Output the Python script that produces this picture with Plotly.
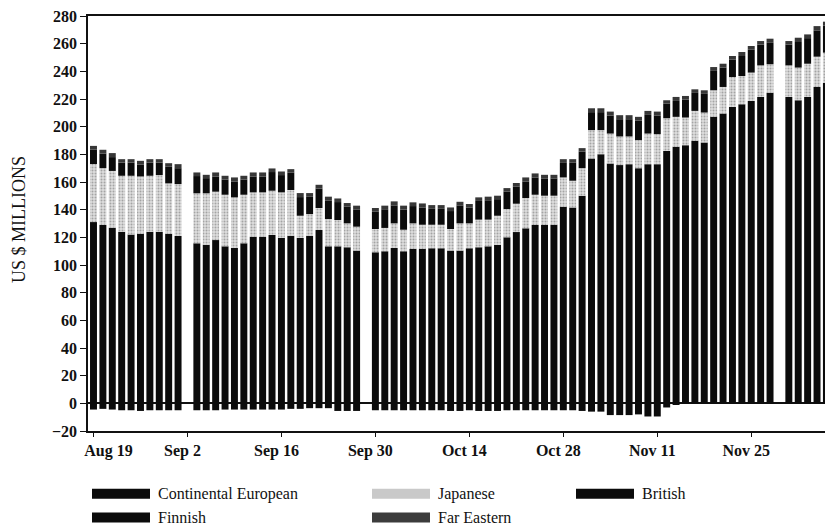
import pandas as pd
import plotly.graph_objects as go

# Business days Aug 19 - Dec 6 (categories); None = no bar that day
days = [d.strftime("%b %d").replace(" 0", " ") for d in pd.bdate_range("1991-08-19", periods=80)]

tick_labels = ["Aug 19", "Sep 2", "Sep 16", "Sep 30", "Oct 14", "Oct 28", "Nov 11", "Nov 25"]

continental = [131, 129, 127, 124, 122, 122.5, 124, 124, 122.5, 121,
               None,
               115.7, 114.7, 118, 113.5, 112.3, 115.7, 120.5, 120.5, 121.7, 119.5, 121.2, 119.5, 121.2, 125.3,
               113.5, 113.5, 112.8, 110.4,
               None,
               109.2, 109.9, 112.3, 109.9, 111.6, 111.6, 112.1, 112.1, 110.4, 110.4, 112.1, 112.8, 113.5,
               114.5, 120, 123.8, 126.5, 128.9, 128.9, 129.1, 142.1, 141.6, 150.1, 177, 180.1, 173.4,
               172.2, 172.9, 170, 172.9, 172.9, 182.5, 185.4, 186.6, 189.8, 188.6, 207.1, 209.5, 214.3,
               216.2, 218.6, 221.5, 224.6,
               None,
               221.5, 219.1, 221.5, 228.7, 231.8, 233]

japanese = [42, 41, 41, 40.5, 42.5, 41.5, 40.5, 41, 36.5, 37.5,
            None,
            36.1, 37.1, 35, 37.3, 36.6, 35.1, 32, 32, 32, 33, 33, 16.1, 15.6, 15.9,
            19.7, 19, 17.3, 17.3,
            None,
            16.8, 16.9, 17.8, 15.6, 18.5, 17.5, 17, 17, 15.6, 19.7, 18, 20, 19.3,
            21.1, 20.5, 20.5, 21.9, 21.9, 21.2, 21, 21.2, 19.3, 19.9, 20.5, 17.4, 21.6,
            20.7, 20, 20.3, 22.1, 21.7, 23.6, 21.7, 20, 21.6, 21.6, 19.2, 19.2, 21.6,
            20.4, 20.5, 22.8, 20.5,
            None,
            22.8, 23.6, 24, 21.9, 21.7, 22]

british = [10.5, 10.5, 10, 9.5, 9.5, 8.5, 9.5, 9, 12, 11.5,
           None,
           12.5, 11, 11, 11, 11.5, 11, 11.5, 11.5, 13.5, 12.5, 12.5, 13.5, 12.5, 14,
           13.5, 13, 12, 12.5,
           None,
           12.5, 13.5, 13, 14.5, 12.5, 12.5, 11.5, 11.5, 13, 13, 11.5, 13.5, 14,
           12, 12.5, 12.5, 12, 12.5, 12.5, 12.5, 10.5, 13, 12, 13, 13, 13,
           12.5, 12.5, 14, 13.5, 13.5, 10.5, 11.5, 13, 13, 13.5, 14, 14, 12.5,
           14.5, 16.5, 15, 15.5,
           None,
           15, 18.5, 18.5, 19, 19.5, 19]

far_eastern = [2.6, 2.8, 2.9, 2.5, 2.5, 2.8, 2.5, 2.5, 2.6, 2.9,
               None,
               2.6, 2.4, 2.9, 2.7, 2.9, 2.7, 2.9, 2.9, 2.6, 2.6, 2.6, 2.9, 2.7, 2.8,
               2.7, 2.6, 2.7, 2.7,
               None,
               2.7, 2.6, 2.9, 2.9, 2.7, 2.9, 2.7, 2.7, 2.6, 2.6, 2.5, 2.6, 2.6,
               2.5, 2.6, 2.5, 2.9, 2.9, 2.6, 2.6, 2.7, 2.6, 2.5, 2.8, 2.8, 2.9,
               2.9, 2.9, 2.8, 2.9, 2.8, 2.5, 2.9, 2.6, 2.6, 2.6, 2.8, 2.8, 2.7,
               2.9, 2.7, 2.6, 3,
               None,
               2.6, 3.1, 2.7, 3.1, 2.9, 3]

finnish = [-4.5, -4, -4.5, -5, -5, -5.5, -5, -5, -5, -5,
           None,
           -5, -5, -5, -4.5, -4.5, -4.5, -4.5, -4.5, -4.5, -4.5, -4, -4, -3.5, -3.5,
           -3.5, -5.5, -5.5, -5.5,
           None,
           -5, -5, -5, -5, -5, -5, -5, -5, -5.5, -5.5, -5, -5.5, -5.5,
           -5.5, -5, -5, -5, -5, -5, -5, -5, -5, -5.5, -6, -6, -8.5,
           -8.5, -8.5, -8, -9.5, -9.5, -3, -1, 0, 0, 0, 0, 0, 0,
           0, 0, 0, 0,
           None,
           0, 0, 0, 0, 0, 0]

BLACK = "#0b0b0b"
FONT = "Liberation Serif"

fig = go.Figure()
common = dict(x=days, width=0.74, showlegend=False, hoverinfo="x+y")
fig.add_bar(y=continental, name="Continental European", marker=dict(color=BLACK, line_width=0), **common)
fig.add_bar(y=japanese, name="Japanese",
            marker=dict(color="#d0d0d0", line_width=0,
                        pattern=dict(shape=".", fgcolor="#6a6a6a", bgcolor="#dedede", size=3, solidity=0.35)),
            **common)
fig.add_bar(y=british, name="British", marker=dict(color=BLACK, line_width=0), **common)
fig.add_bar(y=far_eastern, name="Far Eastern",
            marker=dict(color="#333", line_width=0,
                        pattern=dict(shape=".", fgcolor="#a0a0a0", bgcolor="#1e1e1e", size=2, solidity=0.4)),
            **common)
fig.add_bar(y=finnish, name="Finnish", marker=dict(color=BLACK, line_width=0), **common)

# the page body has an 8px margin: figure pixel = window pixel - 8
OFF = 8
W, H = 833 - OFF, 532 - OFF
L, R, T, B = 88 - OFF, 833 - OFF, 14 - OFF, 431 - OFF
pw, ph = R - L, B - T


def px(x):
    return (x - OFF - L) / pw


def py(y):
    return (B - (y - OFF)) / ph


# manual legend (swatches + labels), positions in window pixels
legend_items = [
    ("Continental European", 92, 494, BLACK),
    ("Japanese", 372, 494, "#c9c9c9"),
    ("British", 576, 494, BLACK),
    ("Finnish", 92, 518, BLACK),
    ("Far Eastern", 372, 518, "#3c3c3c"),
]
shapes = []
annotations = []
for label, x0, yc, col in legend_items:
    shapes.append(dict(type="rect", xref="paper", yref="paper",
                       x0=px(x0), x1=px(x0 + 58), y0=py(yc + 5), y1=py(yc - 5),
                       fillcolor=col, line=dict(width=0)))
    annotations.append(dict(text=label, xref="paper", yref="paper", x=px(x0 + 64), y=py(yc),
                            xanchor="left", yanchor="middle", showarrow=False,
                            font=dict(family=FONT, size=16, color="#111")))

annotations.append(dict(text="US $ MILLIONS", xref="paper", yref="paper", x=px(19), y=py(219),
                        xanchor="center", yanchor="middle", showarrow=False, textangle=-90,
                        font=dict(family=FONT, size=18, color="#111")))

# first date label sits just right of the y axis
tick_text = ["\u00a0" * 10 + tick_labels[0]] + tick_labels[1:]

fig.update_layout(
    width=W, height=H,
    margin=dict(l=L, r=W - R, t=T, b=H - B),
    paper_bgcolor="white", plot_bgcolor="white",
    barmode="relative", bargap=0.26,
    shapes=shapes, annotations=annotations,
    font=dict(family=FONT, color="#111"),
)
fig.update_xaxes(
    type="category", categoryorder="array", categoryarray=days,
    range=[-0.585, 78.7],
    tickmode="array", tickvals=tick_labels, ticktext=tick_text,
    tickfont=dict(family=FONT, size=16, color="#111", weight="bold"),
    ticklabelshift=-5,
    showline=True, linecolor="#111", linewidth=1.5, mirror=True,
    ticks="outside", ticklen=4, tickcolor="#111",
    showgrid=False, zeroline=False,
)
fig.update_yaxes(
    range=[-20, 280], tickmode="array", tickvals=list(range(-20, 281, 20)),
    tickfont=dict(family=FONT, size=16, color="#111", weight="bold"),
    ticklabeloverflow="allow",
    showline=True, linecolor="#111", linewidth=1.5,
    ticks="outside", ticklen=6, tickcolor="#111",
    showgrid=False, zeroline=True, zerolinecolor="#111", zerolinewidth=1.5,
)

fig.write_html("out.html")
